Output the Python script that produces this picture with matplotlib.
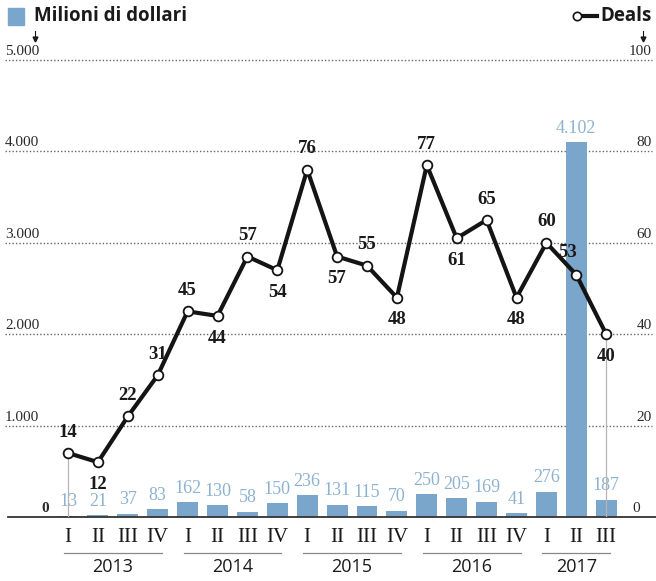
import matplotlib
matplotlib.use("Agg")
import matplotlib.pyplot as plt
import numpy as np

quarters = ["I", "II", "III", "IV"] * 4 + ["I", "II", "III"]
years = ["2013", "2014", "2015", "2016", "2017"]
year_sizes = [4, 4, 4, 4, 3]
milioni = [13, 21, 37, 83, 162, 130, 58, 150, 236, 131, 115, 70, 250, 205, 169, 41, 276, 4102, 187]
deals = [14, 12, 22, 31, 45, 44, 57, 54, 76, 57, 55, 48, 77, 61, 65, 48, 60, 53, 40]
left_ticks = [1000, 2000, 3000, 4000, 5000]
right_ticks = [20, 40, 60, 80, 100]

# label placement for the deals line: a = above, b = below, c = up-left
deal_pos = ["a", "b", "a", "a", "a", "b", "a", "b", "a", "b", "a", "b", "a", "b", "a", "b", "a", "c", "b"]

BAR = "#7aa6cb"
BAR_TXT = "#8db2d1"
SERIF = ["Liberation Serif", "DejaVu Serif"]
SANS = ["Liberation Sans Narrow", "Open Sans", "DejaVu Sans"]

W, H = 656, 581
fig = plt.figure(figsize=(W / 100, H / 100), dpi=100)

# pixel helpers
x0_px, step_px = 68, 29.9
y0_px, ytop_px = 517, 60
left_px, right_px = 8, 656
ax = fig.add_axes([left_px / W, 1 - y0_px / H, (right_px - left_px) / W, (y0_px - ytop_px) / H])
ax.set_xlim((left_px - x0_px) / step_px, (right_px - x0_px) / step_px)
ax.set_ylim(0, 5000)
ax.axis("off")
ax2 = ax.twinx()
ax2.set_ylim(0, 100)
ax2.axis("off")

def fx(px):
    return px / W

def fy(py):
    return 1 - py / H

x = np.arange(len(milioni))

# gridlines and tick labels
for lt, rt in zip(left_ticks, right_ticks):
    yf = fy(y0_px - lt / 5000 * (y0_px - ytop_px))
    fig.add_artist(plt.Line2D([fx(5), fx(652)], [yf, yf], color="#666666", lw=1.0,
                              ls=(0, (1, 1.5)), zorder=0))
    fig.text(fx(5), yf + 2 / H, f"{lt:,}".replace(",", "."), ha="left", va="bottom",
             fontsize=11, family=SERIF, color="#2a2a2a")
    fig.text(fx(652), yf + 2 / H, str(rt), ha="right", va="bottom",
             fontsize=11, family=SERIF, color="#2a2a2a")
fig.text(fx(45), fy(509), "0", ha="center", va="center", fontsize=11, family=SERIF,
         color="#2a2a2a", fontweight="bold")
fig.text(fx(636), fy(509), "0", ha="center", va="center", fontsize=11, family=SERIF,
         color="#2a2a2a")

# bars
ax.bar(x, milioni, width=0.7, color=BAR, zorder=2)
for i, v in enumerate(milioni):
    ax.annotate(f"{v:,}".replace(",", "."), (i, v), xytext=(0, 4), textcoords="offset points",
                ha="center", va="bottom", fontsize=13, family=SERIF, color=BAR_TXT, zorder=3)

# baseline
ax.axhline(0, color="#333333", lw=1.3, zorder=3, clip_on=False)

# thin guides at ends of line
ax2.vlines([x[0], x[-1]], 0, [deals[0], deals[-1]], color="#b5b5b5", lw=0.9, zorder=1)

# deals line
ax2.plot(x, deals, color="#141414", lw=3, zorder=4, marker="o", ms=7,
         mfc="white", mec="#141414", mew=1.3)
for i, v in enumerate(deals):
    p = deal_pos[i]
    off = {"a": (0, 15), "b": (0, -16), "c": (-6, 16)}[p]
    ax2.annotate(str(v), (i, v), xytext=off, textcoords="offset points", ha="center",
                 va="center", fontsize=13.5, family=SERIF, fontweight="bold",
                 color="#1a1a1a", zorder=5)

# quarter and year labels
for i, q in enumerate(quarters):
    fig.text(fx(x0_px + step_px * i), fy(537), q, ha="center", va="center",
             fontsize=15, family=SERIF, color="#1a1a1a")
start = 0
for yr, n in zip(years, year_sizes):
    a, b = x0_px + step_px * start, x0_px + step_px * (start + n - 1)
    fig.add_artist(plt.Line2D([fx(a - 4), fx(b + 4)], [fy(553), fy(553)], color="#888888", lw=0.9))
    fig.text(fx((a + b) / 2), fy(567), yr, ha="center", va="center",
             fontsize=13, family=SANS, color="#1a1a1a")
    start += n

# legend / header
fig.add_artist(plt.Rectangle((fx(8), fy(25)), 16 / W, 17 / H, color=BAR))
fig.text(fx(34), fy(16), "Milioni di dollari", ha="left", va="center",
         fontsize=13.5, family=SANS, fontweight="bold", color="#1a1a1a")
fig.add_artist(plt.Line2D([fx(577), fx(597)], [fy(16), fy(16)], color="#141414", lw=3))
fig.add_artist(plt.Line2D([fx(577)], [fy(16)], marker="o", ms=6, mfc="white",
                          mec="#141414", mew=1.2))
fig.text(fx(652), fy(16), "Deals", ha="right", va="center",
         fontsize=13.5, family=SANS, fontweight="bold", color="#1a1a1a")
for ax_px in (35, 643):
    fig.add_artist(plt.Line2D([fx(ax_px), fx(ax_px)], [fy(31), fy(38)], color="#1a1a1a", lw=0.8))
    fig.add_artist(plt.Line2D([fx(ax_px)], [fy(39)], marker="v", ms=3.5, color="#1a1a1a", lw=0))

fig.savefig("out.png", dpi=100, facecolor="white")
